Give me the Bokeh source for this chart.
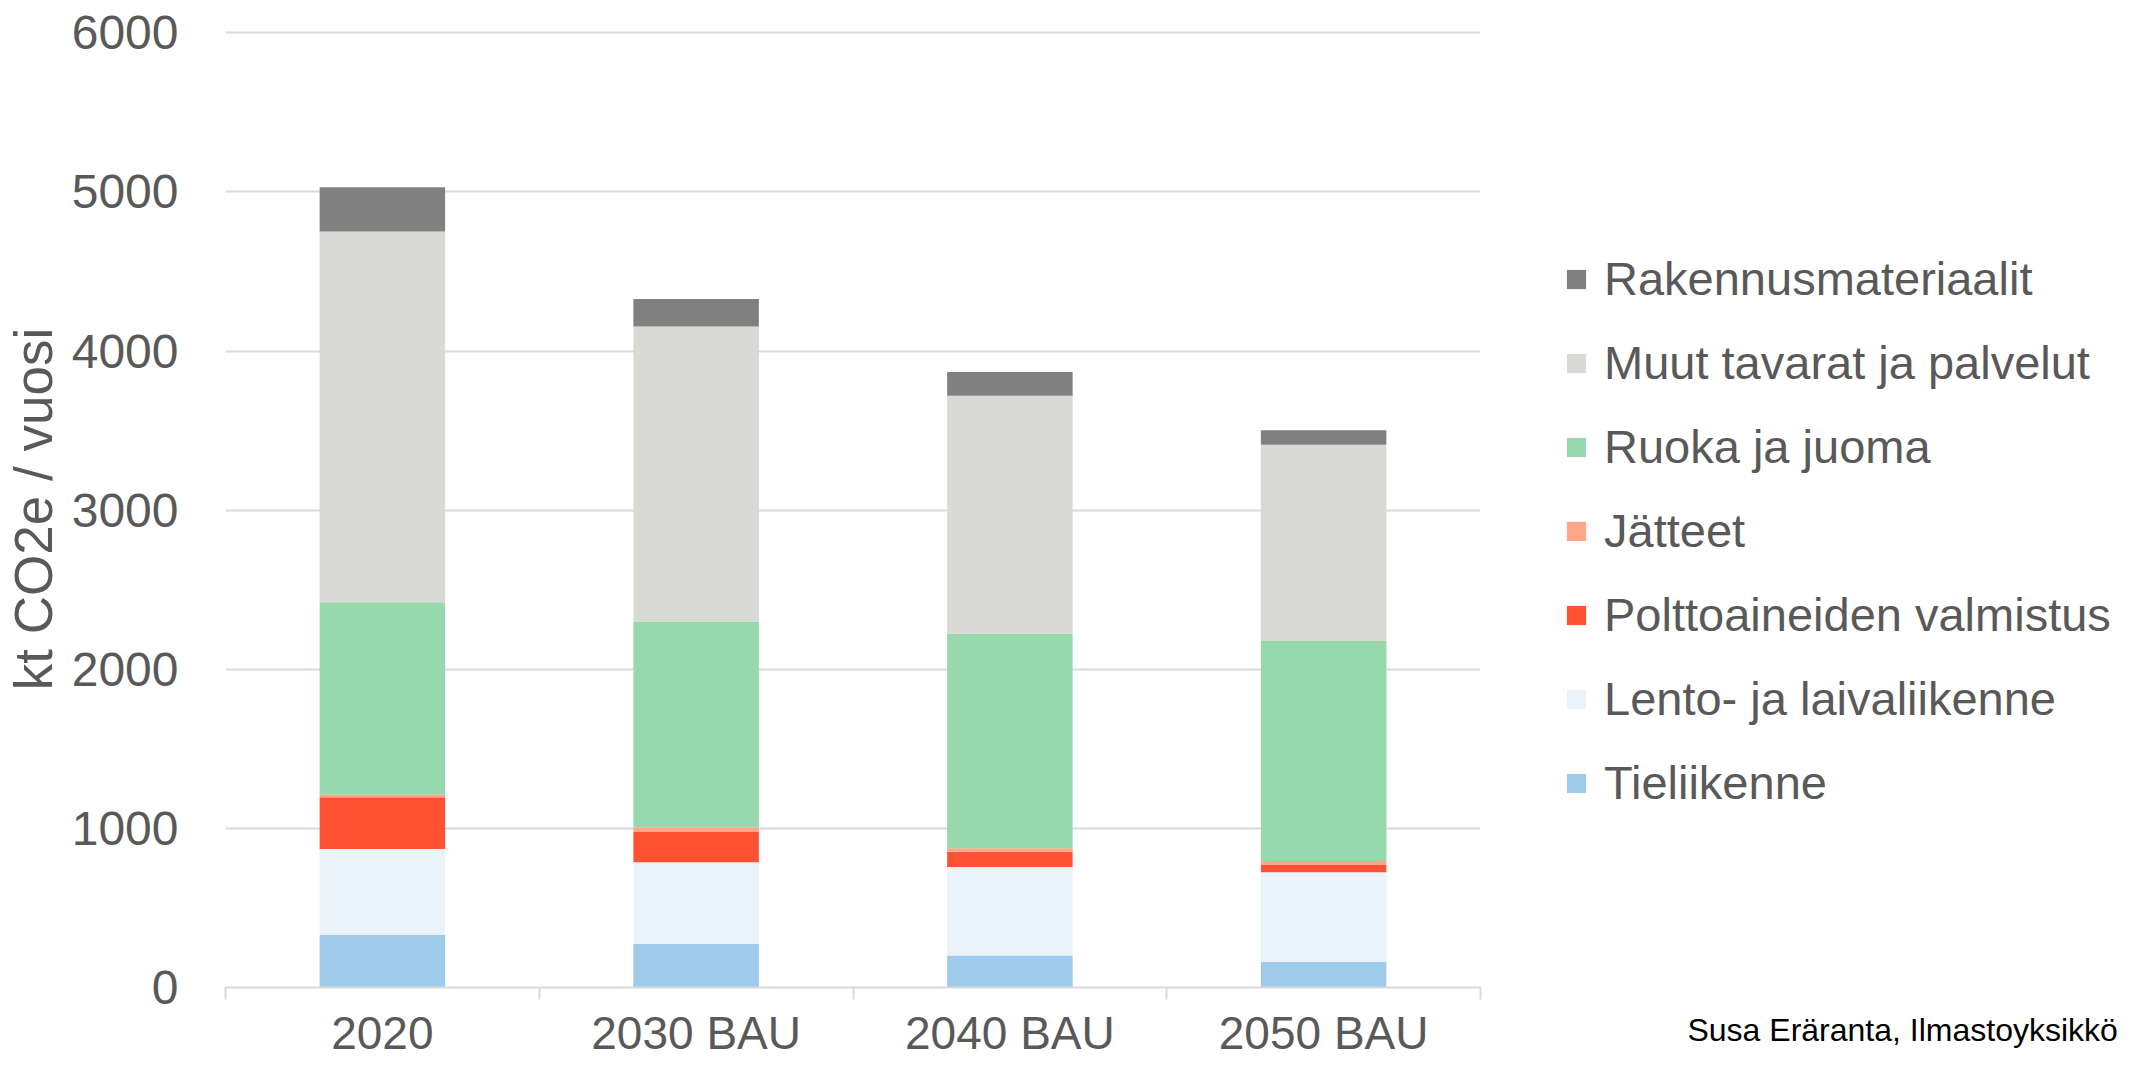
from bokeh.plotting import figure
from bokeh.layouts import row
from bokeh.models import (Range1d, FixedTicker, Legend, LegendItem)
from bokeh.embed import file_html
from bokeh.resources import INLINE

# ---- data -------------------------------------------------------------
categories = ["2020", "2030 BAU", "2040 BAU", "2050 BAU"]
tieliikenne = [330, 273, 201, 160]
lento_laiva = [541, 515, 556, 565]
polttoaineet = [325, 190, 96, 48]
jatteet = [15, 29, 22, 22]
ruoka_juoma = [1211, 1293, 1348, 1383]
muut_tavarat = [2330, 1854, 1496, 1234]
rakennus = [278, 173, 150, 90]

series_names = ["Tieliikenne", "Lento- ja laivaliikenne", "Polttoaineiden valmistus",
                "Jätteet", "Ruoka ja juoma", "Muut tavarat ja palvelut",
                "Rakennusmateriaalit"]
series_values = [tieliikenne, lento_laiva, polttoaineet, jatteet, ruoka_juoma,
                 muut_tavarat, rakennus]
series_colors = ["#9dcbe9", "#eaf2fa", "#ff5233", "#ffa68a", "#98d8ad",
                 "#d9d9d6", "#808080"]
y_ticks = [0, 1000, 2000, 3000, 4000, 5000, 6000]
y_title = "kt CO2e / vuosi"
source_text = "Susa Eräranta, Ilmastoyksikkö"

FONT = "Liberation Sans"
TXT = "#595959"
H = 1092
TOP = 30
BOTTOM = 105
W1 = 1492
W2 = 2123 - W1

# category slots: each category occupies one unit, bar centred in it
centres = [i + 0.5 for i in range(len(categories))]
edges = [float(i) for i in range(len(categories) + 1)]

data = {"x": centres}
keys = []
for i, vals in enumerate(series_values):
    k = f"s{i}"
    keys.append(k)
    data[k] = vals

p = figure(width=W1, height=H,
           x_range=Range1d(edges[0], edges[-1]),
           y_range=Range1d(y_ticks[0], y_ticks[-1] + 15),
           output_backend="svg", toolbar_location=None,
           min_border_left=220, min_border_right=12,
           min_border_top=TOP, min_border_bottom=BOTTOM,
           outline_line_color=None)

renderers = p.vbar_stack(keys, x="x", width=0.4, source=data,
                         color=series_colors, line_color=None)

# y axis
yax = p.yaxis[0]
yax.ticker = FixedTicker(ticks=y_ticks)
yax.axis_line_color = None
yax.major_tick_line_color = None
yax.minor_tick_line_color = None
yax.major_tick_out = 0
yax.major_tick_in = 0
yax.major_label_standoff = 47
yax.major_label_text_font = FONT
yax.major_label_text_font_size = "48px"
yax.major_label_text_color = TXT
yax.axis_label = y_title
yax.axis_label_text_font = FONT
yax.axis_label_text_font_size = "53px"
yax.axis_label_text_font_style = "normal"
yax.axis_label_text_color = TXT
yax.axis_label_standoff = 6

p.ygrid.ticker = FixedTicker(ticks=y_ticks)
p.ygrid.grid_line_color = "#d9d9d9"
p.ygrid.grid_line_width = 2
p.xgrid.grid_line_color = None

# x axis: labels at category centres, small ticks at category edges
xax = p.xaxis[0]
xax.ticker = FixedTicker(ticks=centres, minor_ticks=edges)
xax.major_label_overrides = {c: lab for c, lab in zip(centres, categories)}
xax.axis_line_color = "#d9d9d9"
xax.axis_line_width = 2
xax.major_tick_line_color = None
xax.major_tick_out = 0
xax.major_tick_in = 0
xax.minor_tick_line_color = "#d9d9d9"
xax.minor_tick_line_width = 2
xax.minor_tick_out = 12
xax.minor_tick_in = 0
xax.major_label_standoff = 7
xax.major_label_text_font = FONT
xax.major_label_text_font_size = "46px"
xax.major_label_text_color = TXT

# ---- right-hand panel: legend + source --------------------------------
p2 = figure(width=W2, height=H, x_range=Range1d(0, 1), y_range=Range1d(0, 1),
            output_backend="svg", toolbar_location=None,
            y_axis_location=None,
            min_border_left=0, min_border_right=0,
            min_border_top=TOP, min_border_bottom=BOTTOM,
            outline_line_color=None)
p2.xgrid.visible = False
p2.ygrid.visible = False

# source credit as a single centred label on the panel's bottom axis
source_pos = 0.65
sax = p2.xaxis[0]
sax.ticker = FixedTicker(ticks=[source_pos])
sax.major_label_overrides = {source_pos: source_text}
sax.axis_line_color = None
sax.major_tick_line_color = None
sax.minor_tick_line_color = None
sax.major_tick_out = 0
sax.major_tick_in = 0
sax.major_label_standoff = 24
sax.major_label_text_font = FONT
sax.major_label_text_font_size = "32px"
sax.major_label_text_color = "black"

legend_renderers = [p2.vbar(x=[0], top=[0], width=0, color=c, line_color=None)
                    for c in series_colors]
items = [LegendItem(label=n, renderers=[r])
         for n, r in zip(series_names, legend_renderers)][::-1]
legend = Legend(items=items, location=(72, 177), orientation="vertical",
                glyph_width=24, glyph_height=24, label_standoff=16,
                label_text_font=FONT, label_text_font_size="47px",
                label_text_color=TXT, label_height=46, spacing=29,
                padding=0, margin=0, border_line_color=None,
                background_fill_alpha=0)
p2.add_layout(legend, "center")

layout = row(p, p2, spacing=0)
open("out.html", "w").write(file_html(layout, INLINE))
